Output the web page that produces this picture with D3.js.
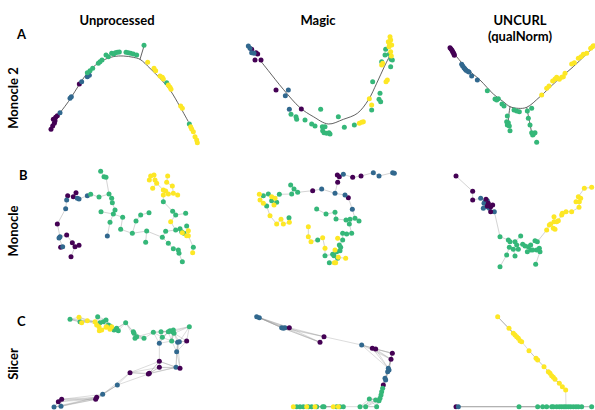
<!DOCTYPE html>
<html><head><meta charset="utf-8">
<script src="https://cdn.jsdelivr.net/npm/d3@7"></script>
<style>body{margin:0;background:#fff}svg{display:block}text{font-family:Lato,"Open Sans",sans-serif;font-weight:700;fill:#000}</style>
</head><body><svg id="c" width="595" height="410"></svg>
<script>
// ---------- labels ----------
const columnTitles = [["Unprocessed"], ["Magic"], ["UNCURL", "(qualNorm)"]];
const rowLetters = ["A", "B", "C"];
const rowMethods = ["Monocle 2", "Monocle", "Slicer"];
const classColors = ["#440154", "#31688e", "#35b779", "#fde725"];

// ---------- data: [component1, component2, cluster] (component units) ----------
const a1Cells = [
 [153,388,0],[158,378,0],[163,370,0],[165,362,0],[160,358,0],[167,352,0],[172,347,0],[238,252,0],
 [180,338,1],[210,295,1],[214,290,1],[245,245,1],[262,230,1],[268,226,1],
 [262,218,2],[270,212,2],[278,205,2],[295,190,2],[300,185,2],[306,180,2],[318,165,2],[325,170,2],[335,160,2],[341,162,2],[346,158,2],[352,157,2],[358,156,2],[378,157,2],[385,158,2],[392,160,2],[400,162,2],[410,165,2],[432,136,2],[500,248,2],[568,372,2],
 [443,187,3],[462,205,3],[467,212,3],[480,228,3],[487,232,3],[490,237,3],[505,255,3],[510,262,3],[513,268,3],[542,318,3],[547,325,3],[572,380,3],[575,387,3],[580,395,3],[585,410,3],[590,420,3],[592,428,3]];
const a1Curve = [[[175,345],[210,298],[240,250],[270,210],[305,183],[340,170],[370,168],[400,172],[420,178],[450,205],[480,235],[510,270],[540,320],[565,365]],[[420,178],[432,138]]];

const a2Cells = [
 [155,148,0],[168,158,0],[173,162,0],[165,180,0],[183,180,0],[228,270,0],[304,327,0],
 [145,138,1],[150,145,1],[155,158,1],[162,160,1],[265,270,1],[256,287,1],[268,328,1],
 [273,343,2],[288,350,2],[290,358,2],[315,360,2],[335,372,2],[345,378,2],[362,328,2],[367,380,2],[375,380,2],[368,392,2],[372,398,2],[380,400,2],[387,398,2],[390,402,2],[415,350,2],[433,382,2],[463,375,2],[518,245,2],[540,280,2],[537,298,2],[542,305,2],[515,330,2],[557,148,2],[545,185,2],[568,163,2],[573,178,2],[577,180,2],[572,200,2],[555,165,2],
 [508,296,3],[515,315,3],[478,370,3],[485,367,3],[490,365,3],[545,195,3],[548,190,3],[558,245,3],[562,240,3],[570,110,3],[572,120,3],[568,130,3],[575,135,3],[567,140,3],[572,155,3],[574,168,3],[565,125,3]];
const a2Curve = [[[178,178],[205,212],[250,268],[300,323],[340,350],[385,372],[430,358],[472,340],[505,300],[530,250],[553,200],[572,162]]];

const a3Cells = [
 [150,143,0],[153,147,0],[156,151,0],[158,155,0],[160,158,0],[162,162,0],[163,166,0],
 [185,193,1],[188,198,1],[192,203,1],[195,207,1],[198,211,1],[203,214,1],[207,216,1],[215,228,1],[232,240,1],
 [262,272,2],[285,297,2],[290,300,2],[295,296,2],[306,312,2],[312,318,2],[322,348,2],[320,365,2],[325,368,2],[322,375,2],[328,378,2],[330,392,2],[342,330,2],[350,333,2],[358,335,2],[382,333,2],[395,325,2],[385,355,2],[390,375,2],[395,398,2],[400,403,2],[405,398,2],[398,405,2],[410,427,2],
 [425,285,3],[440,265,3],[447,258,3],[458,243,3],[465,237,3],[470,232,3],[478,238,3],[485,232,3],[490,230,3],[495,220,3],[515,192,3],[523,188,3],[535,175,3],[543,170,3],[550,163,3],[560,160,3],[572,145,3],[578,140,3],[580,137,3]];
const a3Curve = [[[150,145],[200,205],[240,240],[280,282],[310,305],[330,320],[355,325],[380,322],[420,290],[470,243],[520,200],[582,140]],[[330,320],[326,350],[325,382]],[[380,322],[386,352],[395,398]]];

const b1Cells = [
 [203,137,0],[220,140,0],[228,128,0],[172,222,0],[200,255,0],[217,278,0],[225,290,0],[237,286,0],[213,320,0],[182,292,0],
 [200,150,1],[232,145,1],[237,147,1],[262,137,1],[197,176,1],[180,260,1],[177,264,1],[188,290,1],[322,258,1],
 [272,133,2],[297,141,2],[302,64,2],[312,80,2],[318,82,2],[327,132,2],[335,145,2],[337,158,2],[345,180,2],[340,192,2],[303,185,2],[330,217,2],[368,202,2],[362,238,2],[397,250,2],[408,213,2],[422,195,2],[447,188,2],[440,243,2],[437,277,2],[487,262,2],[497,244,2],[505,280,2],[520,296,2],[535,300,2],[537,310,2],[547,335,2],[580,292,2],[490,155,2],[518,184,2],[527,195,2],[557,190,2],[560,228,2],[540,236,2],[545,245,2],[552,250,2],[527,240,2],
 [452,78,3],[462,75,3],[448,90,3],[465,90,3],[470,100,3],[458,115,3],[503,78,3],[500,97,3],[490,120,3],[497,123,3],[505,132,3],[517,108,3],[533,135,3],[520,130,3],[490,135,3],[512,215,3],[565,242,3],[560,257,3],[565,257,3],[547,248,3],[578,308,3]];

const b2Cells = [
 [412,75,0],[418,80,0],[458,82,0],[483,78,0],[338,122,0],[413,97,0],[445,143,0],
 [430,73,1],[520,68,1],[537,78,1],[578,68,1],[583,70,1],[365,117,1],[405,130,1],[435,135,1],[457,178,1],
 [272,105,2],[282,117,2],[293,127,2],[275,132,2],[238,133,2],[205,132,2],[190,137,2],[215,152,2],[230,157,2],[200,168,2],[350,177,2],[378,192,2],[405,187,2],[408,207,2],[438,210,2],[450,208,2],[465,205,2],[477,213,2],[448,222,2],[455,250,2],[440,252,2],[428,250,2],[428,270,2],[418,285,2],[422,292,2],[353,270,2],[375,317,2],[398,313,2],[402,317,2],[410,305,2],[420,302,2],[388,338,2],[413,325,2],[267,203,2],
 [178,133,3],[180,150,3],[190,160,3],[215,140,3],[225,145,3],[222,165,3],[210,197,3],[243,208,3],[230,222,3],[250,222,3],[268,217,3],[325,230,3],[325,260,3],[333,275,3],[368,263,3],[375,295,3],[413,265,3],[405,300,3],[415,322,3],[437,325,3],[403,338,3],[407,338,3]];

const b3Cells = [
 [242,145,1],[252,160,1],[255,155,1],[250,175,1],[260,170,1],[268,175,1],[283,185,1],[262,152,1],
 [168,78,0],[218,124,0],[218,150,0],[258,148,0],[265,160,0],[272,170,0],[278,165,0],[272,185,0],[262,168,0],
 [300,260,2],[325,270,2],[330,275,2],[345,275,2],[350,285,2],[328,292,2],[340,298,2],[355,298,2],[345,318,2],[320,315,2],[300,350,2],[362,258,2],[368,283,2],[375,288,2],[385,290,2],[392,285,2],[382,305,2],[392,300,2],[398,300,2],[405,272,2],[412,275,2],[418,295,2],[420,305,2],[407,343,2],[410,300,2],
 [440,240,3],[448,225,3],[460,235,3],[465,238,3],[452,222,3],[462,215,3],[470,215,3],[475,212,3],[462,200,3],[485,195,3],[487,190,3],[498,185,3],[515,185,3],[528,155,3],[538,155,3],[535,140,3],[542,145,3],[537,172,3],[553,115,3],[575,112,3]];

const c1Cells = [
 [210,118,2],[240,125,2],[293,110,2],[300,128,2],[310,125,2],[318,120,2],[325,135,2],[330,138,2],[342,150,2],[350,145,2],[355,152,2],[377,128,2],[400,155,2],[402,160,2],[405,175,2],[410,170,2],[432,175,2],[460,157,2],[483,155,2],[487,172,2],[505,155,2],[510,152,2],[517,155,2],[520,150,2],[522,160,2],[515,183,2],[568,140,2],
 [237,112,3],[245,128,3],[262,122,3],[285,125,3],[290,135,3],[297,140,3],[305,150,3],[318,142,3],[320,140,3],[330,148,3],[335,140,3],[298,152,3],
 [478,190,1],[533,187,1],[538,185,1],[530,215,1],[528,262,1],[352,315,1],[308,343,1],[162,381,1],[183,379,1],
 [560,183,0],[478,244,0],[478,262,0],[540,265,0],[390,278,0],[445,282,0],[448,280,0],[290,352,0],[287,358,0],[185,358,0],[175,365,0]];

const c2Cells = [
 [170,110,1],[178,113,1],[245,143,1],[250,145,1],[255,143,1],[485,195,1],[565,265,1],[567,270,1],[563,275,1],[555,295,1],[557,300,1],
 [268,143,0],[372,170,0],[360,187,0],[517,205,0],[527,207,0],[577,220,0],[573,238,0],[550,315,0],
 [548,325,2],[545,335,2],[543,345,2],[540,355,2],[537,362,2],[508,357,2],[527,360,2],[530,380,2],[497,380,2],[480,380,2],[430,380,2],[420,380,2],[410,380,2],[372,380,2],[368,380,2],[350,380,2],[335,380,2],[325,380,2],[310,380,2],[300,380,2],[290,380,2],
 [280,380,3],[320,380,3],[345,380,3],[400,380,3],[415,380,3]];

const c3Cells = [
 [293,110,3],[327,145,3],[340,160,3],[345,165,3],[350,170,3],[355,175,3],[360,182,3],[365,185,3],[387,212,3],[408,235,3],[413,240,3],[432,260,3],[445,275,3],[450,280,3],[455,287,3],[460,292,3],[465,298,3],[478,310,3],[487,320,3],[497,330,3],
 [357,380,2],[413,380,2],[428,380,2],[440,380,2],[455,380,2],[460,380,2],[470,380,2],[478,380,2],[485,380,2],[492,380,2],[498,380,2],[505,380,2],[512,380,2],[520,380,2],[528,380,2],[535,380,2],[545,380,2],[575,380,2],
 [168,380,0],[175,380,1]];

// ---------- layout ----------
const panels = [
 {cells:a1Cells, curve:a1Curve, kind:"curve", x0:0,  y0:0,   w:210, h:150},
 {cells:a2Cells, curve:a2Curve, kind:"curve", x0:200,y0:0,   w:210, h:150},
 {cells:a3Cells, curve:a3Curve, kind:"curve", x0:400,y0:0,   w:195, h:150},
 {cells:b1Cells, kind:"mst", x0:0,  y0:150, w:210, h:130},
 {cells:b2Cells, kind:"mst", x0:200,y0:150, w:210, h:130},
 {cells:b3Cells, kind:"mst", x0:400,y0:150, w:195, h:130},
 {cells:c1Cells, kind:"knn", k:5, x0:0,  y0:280, w:210, h:130},
 {cells:c2Cells, kind:"knn", k:5, x0:200,y0:280, w:210, h:130},
 {cells:c3Cells, kind:"knn", k:3, x0:400,y0:280, w:195, h:130}
];

const svg = d3.select("#c");

function mstEdges(pts){
  const n = pts.length, inT = new Array(n).fill(false), best = new Array(n).fill(Infinity), par = new Array(n).fill(-1);
  const d = (i,j)=>Math.hypot(pts[i][0]-pts[j][0], pts[i][1]-pts[j][1]);
  best[0]=0; const edges=[];
  for(let it=0;it<n;it++){
    let u=-1; for(let i=0;i<n;i++) if(!inT[i] && (u<0||best[i]<best[u])) u=i;
    inT[u]=true; if(par[u]>=0) edges.push([par[u],u]);
    for(let v=0;v<n;v++) if(!inT[v]){const dd=d(u,v); if(dd<best[v]){best[v]=dd;par[v]=u;}}
  }
  return edges;
}
function knnEdges(pts,k){
  const set=new Set(), edges=[];
  const add=(i,j)=>{const key=i<j?i+"-"+j:j+"-"+i; if(!set.has(key)){set.add(key);edges.push([i,j]);}};
  pts.forEach((p,i)=>{
    pts.map((q,j)=>[j,Math.hypot(p[0]-q[0],p[1]-q[1])]).filter(e=>e[0]!==i)
      .sort((a,b)=>a[1]-b[1]).slice(0,k).forEach(([j])=>add(i,j));
  });
  mstEdges(pts).forEach(([i,j])=>add(i,j));
  return edges;
}

panels.forEach(p=>{
  const x = d3.scaleLinear().domain([0, 3*p.w]).range([p.x0, p.x0+p.w]);
  const y = d3.scaleLinear().domain([0, 3*p.h]).range([p.y0, p.y0+p.h]);
  const g = svg.append("g");
  if(p.kind==="curve"){
    const line = d3.line().x(d=>x(d[0])).y(d=>y(d[1])).curve(d3.curveCatmullRom);
    g.selectAll("path.tr").data(p.curve).join("path").attr("class","tr")
      .attr("d",line).attr("fill","none").attr("stroke","#3a3a3a").attr("stroke-width",0.8);
  } else {
    const edges = p.kind==="mst" ? mstEdges(p.cells) : knnEdges(p.cells, p.k);
    g.selectAll("line").data(edges).join("line")
      .attr("x1",e=>x(p.cells[e[0]][0])).attr("y1",e=>y(p.cells[e[0]][1]))
      .attr("x2",e=>x(p.cells[e[1]][0])).attr("y2",e=>y(p.cells[e[1]][1]))
      .attr("stroke", p.kind==="mst" ? "#d4d4d4" : "#9a9a9a")
      .attr("stroke-opacity", p.kind==="mst" ? 1 : 0.5)
      .attr("stroke-width", p.kind==="mst" ? 1 : 0.7);
  }
  g.selectAll("circle").data(p.cells).join("circle")
    .attr("cx",d=>x(d[0])).attr("cy",d=>y(d[1])).attr("r",2.5)
    .attr("fill",d=>classColors[d[2]]);
});

// ---------- titles ----------
const colCenters = [117, 318, 520];
columnTitles.forEach((lines,i)=>{
  lines.forEach((t,j)=>{
    svg.append("text").attr("x",colCenters[i]).attr("y",25+j*16).attr("text-anchor","middle")
      .attr("font-size",13).text(t);
  });
});
const letterPos = [[17,39],[19,180],[17,326]];
rowLetters.forEach((t,i)=>svg.append("text").attr("x",letterPos[i][0]).attr("y",letterPos[i][1]).attr("font-size",13).text(t));
const methodCenters = [98, 231, 364];
rowMethods.forEach((t,i)=>svg.append("text")
  .attr("transform",`translate(18,${methodCenters[i]}) rotate(-90)`)
  .attr("text-anchor","middle").attr("font-size",13).text(t));
</script></body></html>
